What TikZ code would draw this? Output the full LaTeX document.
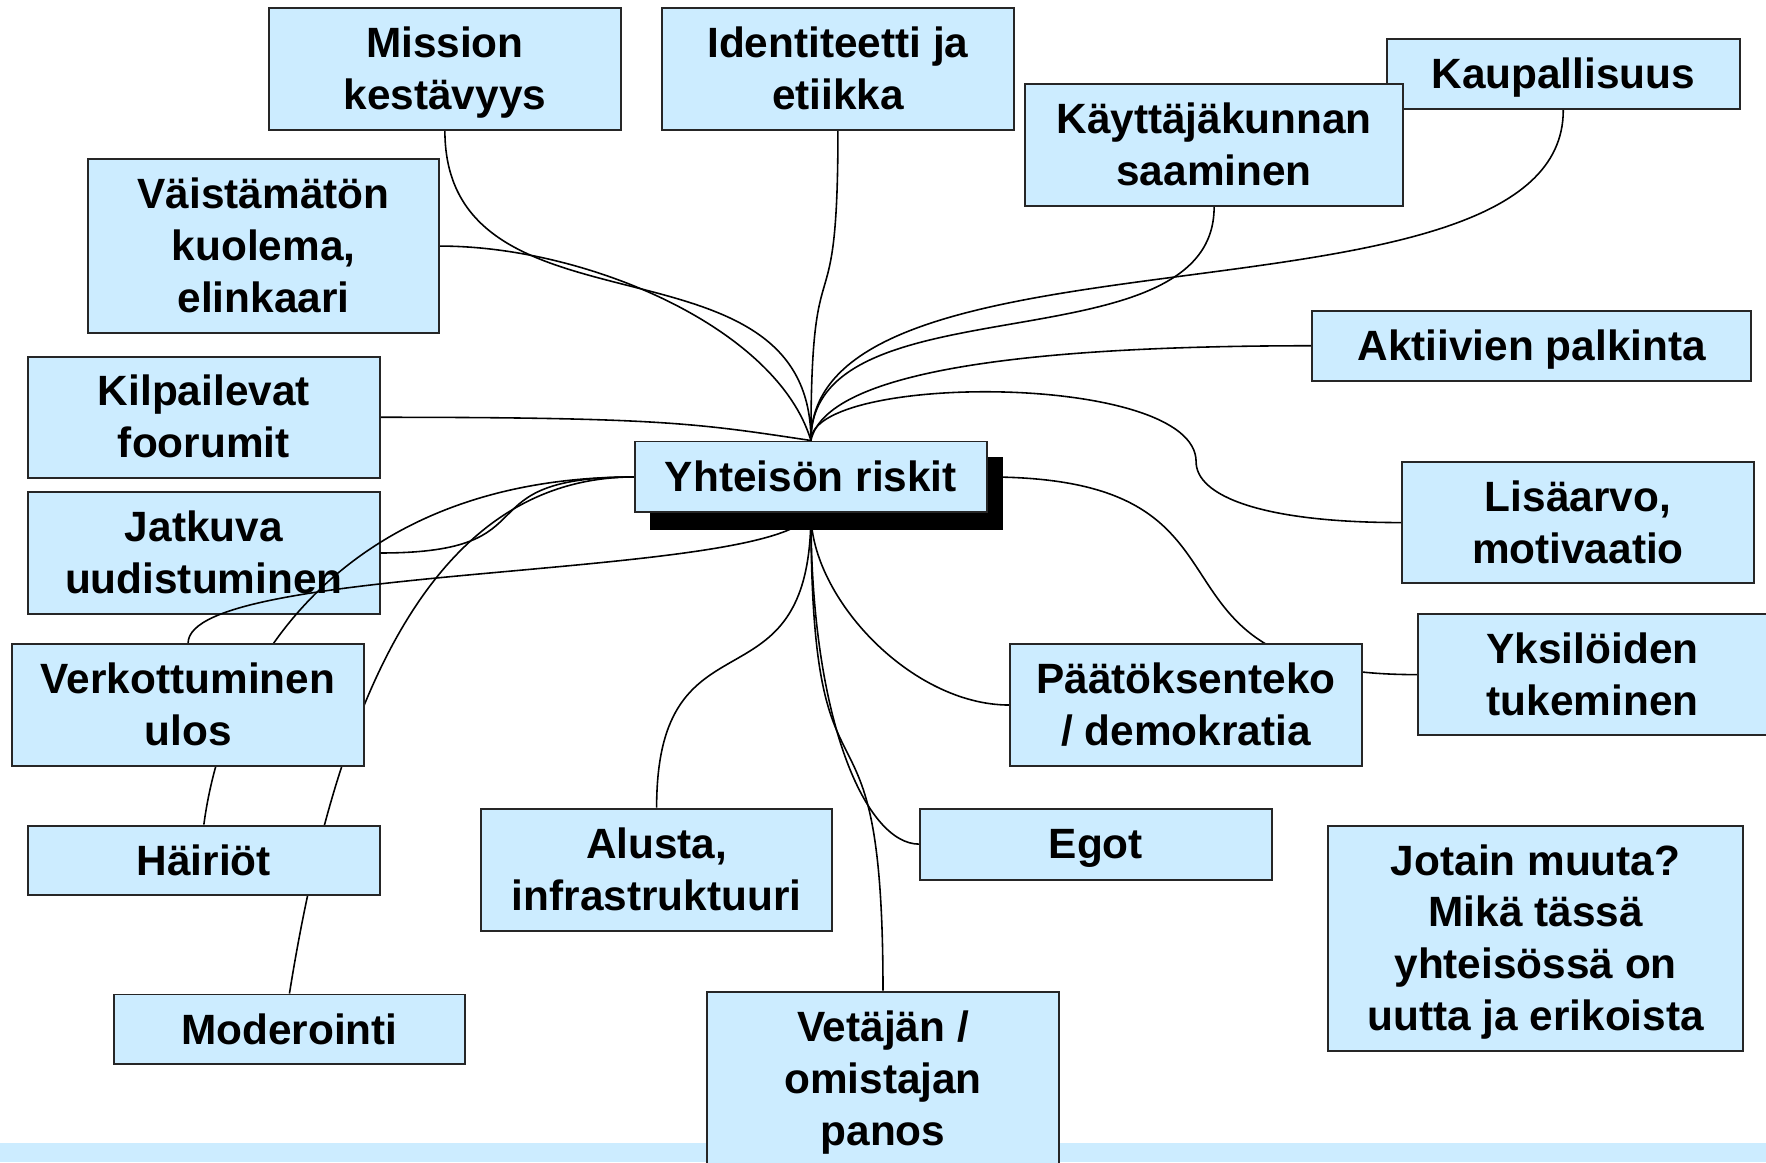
\documentclass[tikz,border=0pt]{standalone}
\usepackage{fontspec}
\setmainfont{Liberation Sans}
\usetikzlibrary{shadows,calc}

\definecolor{topicblue}{HTML}{CCECFF}
\pgfdeclarelayer{under}
\pgfdeclarelayer{lines}
\pgfsetlayers{under,lines,main}

\begin{document}
\begin{tikzpicture}[
    x=0.1mm, y=0.1mm,
    every node/.style={font=\bfseries\fontsize{10.7}{13.1}\selectfont},
    box/.style={draw=black!85, line width=0.5pt, fill=topicblue, align=center, inner sep=0pt, minimum width=31.2mm, minimum height=10.8mm, text height=22.8pt, text depth=2.3pt},
    low/.style={box, minimum height=6.2mm, text height=9.7pt},
    three/.style={text height=35.9pt},
    four/.style={text height=49pt},
    link/.style={line width=0.4pt},
    vlink/.style={to path={.. controls ($(\tikztostart)!0.7!(\tikztostart |- \tikztotarget)$) and ($(\tikztotarget)!0.7!(\tikztotarget |- \tikztostart)$) .. (\tikztotarget)}},
    hlink/.style={to path={.. controls ($(\tikztostart)!0.7!(\tikztostart -| \tikztotarget)$) and ($(\tikztotarget)!0.7!(\tikztotarget -| \tikztostart)$) .. (\tikztotarget)}}
  ]
    \useasboundingbox (0,0) rectangle (1568,1032);

    % band and the one topic that lies under the links
    \begin{pgfonlayer}{under}
      \fill[topicblue] (0,0) rectangle (1568,17);
      \node[box] (jatk) at (181,541) {Jatkuva\\uudistuminen};
    \end{pgfonlayer}

    \node[low, minimum height=6.3mm, copy shadow={shadow xshift=1.4mm, shadow yshift=-1.5mm, fill=black, draw=black}] (riskit) at (720,608.5) {Yhteisön riskit};

    \node[box] (mission) at (395,971) {Mission\\kestävyys};
    \node[box] (ident) at (744,971) {Identiteetti ja\\etiikka};
    \node[low, minimum width=31.3mm] (kaup) at (1388,966) {Kaupallisuus};
    \node[box, minimum width=33.6mm] (kaytt) at (1078,903) {Käyttäjäkunnan\\saaminen};
    \node[box, three, minimum height=15.5mm] (vaist) at (234,813.5) {Väistämätön\\kuolema,\\elinkaari};
    \node[box, minimum height=10.7mm] (kilp) at (181,661.5) {Kilpailevat\\foorumit};
    \node[box] (verk) at (167,406) {Verkottuminen\\ulos};
    \node[low] (hair) at (181,268) {Häiriöt};
    \node[low] (moder) at (257,118) {Moderointi};
    \node[box, minimum height=10.9mm] (alusta) at (583,259.5) {Alusta,\\infrastruktuuri};
    \node[box, three, minimum height=15.5mm] (vetaja) at (784,74) {Vetäjän /\\omistajan\\panos};
    \node[low, minimum height=6.3mm] (egot) at (973,282.5) {Egot};
    \node[box] (paat) at (1053,406) {Päätöksenteko\\/ demokratia};
    \node[box, minimum width=31mm] (yksil) at (1414,433) {Yksilöiden\\tukeminen};
    \node[box] (lisa) at (1401,568) {Lisäarvo,\\motivaatio};
    \node[low, minimum width=39mm] (akti) at (1360,725) {Aktiivien palkinta};
    \node[box, four, minimum width=36.9mm, minimum height=20mm] (jotain) at (1363.5,199) {Jotain muuta?\\Mikä tässä\\yhteisössä on\\uutta ja erikoista};

    \coordinate (lisabend) at (1062,622);

    \begin{pgfonlayer}{lines}
      % branches into the top of the central topic
      \draw[link] (mission.south) to[vlink] (riskit.north);
      \draw[link] (ident.south) to[vlink] (riskit.north);
      \draw[link] (kaytt.south) to[vlink] (riskit.north);
      \draw[link] (kaup.south) to[vlink] (riskit.north);
      \draw[link] (vaist.east) .. controls +(130,0) and +(-30,100) .. (riskit.north);
      \draw[link] (kilp.east) .. controls +(250,0) and +(-100,15) .. (riskit.north);
      \draw[link] (akti.west) .. controls +(-215,0) and +(15,68) .. (riskit.north);
      \draw[link] (riskit.north) .. controls +(0,60) and +(0,80) .. (lisabend)
        .. controls +(0,-30) and +(-125,0) .. (lisa.west);

      % left side
      \draw[link] (jatk.east) to[hlink] (riskit.west);
      \draw[link] (hair.north) .. controls +(20,150) and +(-250,0) .. (riskit.west);
      \draw[link] (moder.north) .. controls +(40,250) and +(-184,0) .. (riskit.west);

      % bottom, ends hidden by the shadow
      \draw[link] (verk.north) .. controls +(0,72) and +(-30,-60) .. (riskit.south);
      \draw[link] (alusta.north) to[vlink] (riskit.south);
      \draw[link] (vetaja.north) to[vlink] (riskit.south);
      \draw[link] (egot.west) .. controls +(-47,0) and +(0,-185) .. (riskit.south);
      \draw[link] (paat.west) .. controls +(-87,0) and +(0,-75) .. (riskit.south);

      % right side, runs behind Paatoksenteko
      \draw[link] (riskit.east) to[hlink] (yksil.west);
    \end{pgfonlayer}
\end{tikzpicture}
\end{document}
